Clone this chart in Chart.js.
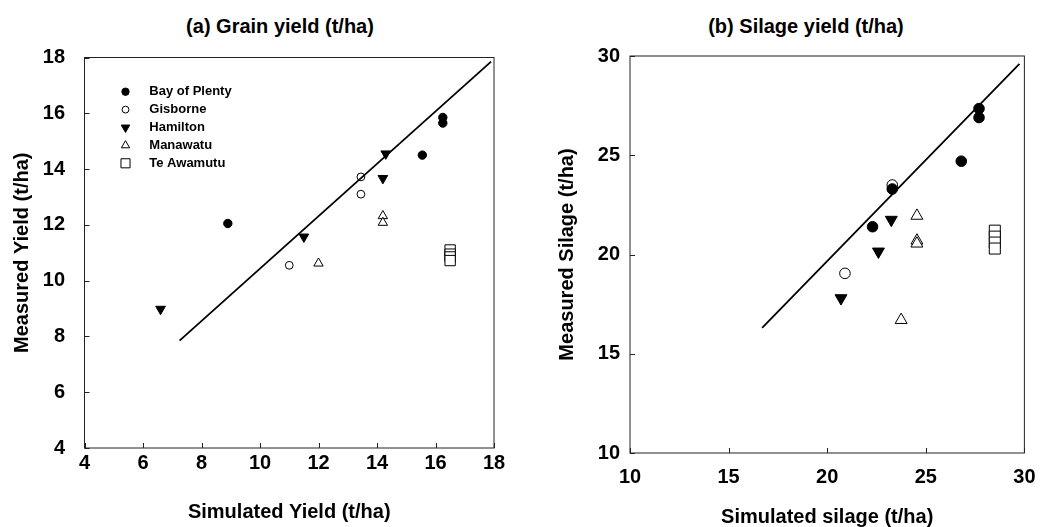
<!DOCTYPE html>
<html>
<head>
<meta charset="utf-8">
<script src="https://cdn.jsdelivr.net/npm/chart.js@4.4.1/dist/chart.umd.min.js"></script>
<style>
  body { margin: 0; background: #fff; }
  #wrap { position: relative; width: 1050px; height: 527px; font-family: "Liberation Sans", Arial, sans-serif; }
  canvas { position: absolute; top: 0; }
  .ttl { position: absolute; top: 15px; width: 300px; text-align: center; font-weight: bold; font-size: 20px; line-height: 22px; color: #000; }
</style>
</head>
<body>
<div id="wrap">
  <div class="ttl" style="left:130px">(a) Grain yield (t/ha)</div>
  <div class="ttl" style="left:656px">(b) Silage yield (t/ha)</div>
  <canvas id="grain" width="525" height="527" style="left:0"></canvas>
  <canvas id="silage" width="525" height="527" style="left:525px"></canvas>
</div>
<script>
/* -------- Daten -------- */
const sites = ["Bay of Plenty", "Gisborne", "Hamilton", "Manawatu", "Te Awamutu"];

// (a) grain yield: simulated (x) vs measured (y)
const grainBopX = [8.9, 15.55, 16.25, 16.25];
const grainBopY = [12.05, 14.5, 15.85, 15.65];
const grainGisX = [11.0, 13.45, 13.45];
const grainGisY = [10.55, 13.72, 13.1];
const grainHamX = [6.6, 11.5, 14.2, 14.3];
const grainHamY = [8.98, 11.57, 13.67, 14.55];
const grainManX = [12.0, 14.2, 14.2];
const grainManY = [10.62, 12.32, 12.08];
const grainTeaX = [16.5, 16.5, 16.5, 16.5];
const grainTeaY = [11.1, 10.95, 10.85, 10.72];
const grainLineX = [7.25, 17.9];
const grainLineY = [7.85, 17.85];
const grainTicks = [4, 6, 8, 10, 12, 14, 16, 18];

// (b) silage yield
const silBopX = [22.3, 26.8, 27.7, 27.7, 23.3];
const silBopY = [21.4, 24.7, 27.35, 26.9, 23.3];
const silGisX = [20.9, 23.3];
const silGisY = [19.05, 23.5];
const silHamX = [20.7, 22.6, 23.25];
const silHamY = [17.8, 20.15, 21.75];
const silManX = [23.75, 24.55, 24.55, 24.55];
const silManY = [16.7, 21.95, 20.7, 20.55];
const silTeaX = [28.5, 28.5, 28.5, 28.5];
const silTeaY = [21.2, 20.9, 20.6, 20.3];
const silLineX = [16.7, 29.75];
const silLineY = [16.3, 29.6];
const silTicks = [10, 15, 20, 25, 30];

/* -------- Stil -------- */
const FONT = '"Liberation Sans", Arial, sans-serif';
const siteStyle = [
  { style: "circle", rot: 0, fill: "#000" },
  { style: "circle", rot: 0, fill: "#fff" },
  { style: "triangle", rot: 180, fill: "#000" },
  { style: "triangle", rot: 0, fill: "#fff" },
  { style: "rect", rot: 0, fill: "#fff" }
];
const grainRadius = [4.2, 3.9, 5.6, 5.4, 7.3];
const silRadius = [5.3, 5.3, 6.9, 6.9, 7.8];

const pts = (xs, ys) => xs.map((x, i) => ({ x, y: ys[i] }));

function siteDataset(i, xs, ys, radius) {
  const s = siteStyle[i];
  return {
    label: sites[i],
    inLegend: true,
    data: pts(xs, ys),
    showLine: false,
    pointStyle: s.style,
    pointRotation: s.rot,
    pointRadius: radius[i],
    pointHoverRadius: radius[i],
    backgroundColor: s.fill,
    borderColor: "#000",
    pointBorderWidth: 1
  };
}

function lineDataset(xs, ys) {
  return {
    label: "1:1",
    data: pts(xs, ys),
    showLine: true,
    pointRadius: 0,
    borderColor: "#000",
    borderWidth: 1.8
  };
}

/* -------- Rahmen + Ticks nach innen -------- */
const framePlugin = {
  id: "frame",
  beforeDatasetsDraw(chart) {
    const { ctx, chartArea: a, scales } = chart;
    ctx.save();
    ctx.strokeStyle = "#222";
    ctx.lineWidth = 1;
    ctx.strokeRect(a.left, a.top, a.right - a.left, a.bottom - a.top);
    ctx.beginPath();
    scales.x.ticks.forEach(t => {
      const px = Math.round(scales.x.getPixelForValue(t.value)) + 0.5;
      ctx.moveTo(px, a.bottom);
      ctx.lineTo(px, a.bottom - 5);
    });
    scales.y.ticks.forEach(t => {
      const py = Math.round(scales.y.getPixelForValue(t.value)) + 0.5;
      ctx.moveTo(a.left, py);
      ctx.lineTo(a.left + 5, py);
    });
    ctx.stroke();
    ctx.restore();
  }
};

/* -------- Legende im Plot -------- */
const innerLegend = {
  id: "innerLegend",
  afterDatasetsDraw(chart, args, opts) {
    if (!opts.show) return;
    const { ctx, chartArea: a } = chart;
    ctx.save();
    ctx.font = "bold 13px " + FONT;
    ctx.textBaseline = "middle";
    let y = a.top + opts.top;
    chart.data.datasets.forEach(ds => {
      if (!ds.inLegend) return;
      ctx.fillStyle = ds.backgroundColor;
      ctx.strokeStyle = "#000";
      ctx.lineWidth = 1;
      Chart.helpers.drawPoint(ctx, {
        pointStyle: ds.pointStyle,
        rotation: ds.pointRotation,
        radius: ds.pointRadius * 0.88,
        borderWidth: 1
      }, a.left + opts.left, y);
      ctx.fillStyle = "#000";
      ctx.fillText(ds.label, a.left + opts.textLeft, y);
      y += opts.rowGap;
    });
    ctx.restore();
  }
};

function axis(min, max, step, title, c) {
  return {
    type: "linear",
    min, max,
    afterFit: s => { if (c.width) s.width = c.width; if (c.height) s.height = c.height; },
    grid: { display: false, drawTicks: false },
    border: { display: false },
    ticks: {
      stepSize: step,
      autoSkip: false,
      maxRotation: 0,
      padding: c.tickPad,
      color: "#000",
      font: { family: FONT, size: 20, weight: "bold", lineHeight: 1 }
    },
    title: {
      display: true,
      text: title,
      color: "#000",
      padding: c.titlePad,
      font: { family: FONT, size: 20, weight: "bold", lineHeight: 1 }
    }
  };
}

function makeChart(id, datasets, cfg) {
  return new Chart(document.getElementById(id).getContext("2d"), {
    type: "scatter",
    data: { datasets },
    options: {
      responsive: false,
      animation: false,
      devicePixelRatio: 1,
      layout: { padding: cfg.padding },
      plugins: {
        legend: { display: false },
        tooltip: { enabled: false },
        innerLegend: cfg.legend
      },
      scales: { x: cfg.x, y: cfg.y }
    },
    plugins: [framePlugin, innerLegend]
  });
}

/* -------- (a) Grain -------- */
makeChart("grain", [
  lineDataset(grainLineX, grainLineY),
  siteDataset(0, grainBopX, grainBopY, grainRadius),
  siteDataset(1, grainGisX, grainGisY, grainRadius),
  siteDataset(2, grainHamX, grainHamY, grainRadius),
  siteDataset(3, grainManX, grainManY, grainRadius),
  siteDataset(4, grainTeaX, grainTeaY, grainRadius)
], {
  padding: { top: 57.5, right: 31, bottom: 0, left: 0 },
  legend: { show: true, left: 41, textLeft: 64.8, top: 34.2, rowGap: 17.9 },
  x: axis(grainTicks[0], grainTicks[grainTicks.length - 1], 2, "Simulated Yield (t/ha)",
    { height: 79, tickPad: 5.5, titlePad: { top: 0, bottom: 4.5 } }),
  y: axis(grainTicks[0], grainTicks[grainTicks.length - 1], 2, "Measured Yield (t/ha)",
    { width: 84.5, tickPad: 19.5, titlePad: { top: 12.7, bottom: 0 } })
});

/* -------- (b) Silage -------- */
makeChart("silage", [
  lineDataset(silLineX, silLineY),
  siteDataset(0, silBopX, silBopY, silRadius),
  siteDataset(1, silGisX, silGisY, silRadius),
  siteDataset(2, silHamX, silHamY, silRadius),
  siteDataset(3, silManX, silManY, silRadius),
  siteDataset(4, silTeaX, silTeaY, silRadius)
], {
  padding: { top: 56, right: 13, bottom: 0, left: 0 },
  legend: { show: false },
  x: axis(silTicks[0], silTicks[silTicks.length - 1], 5, "Simulated silage (t/ha)",
    { height: 74, tickPad: 14.5, titlePad: { top: 0, bottom: 0 } }),
  y: axis(silTicks[0], silTicks[silTicks.length - 1], 5, "Measured Silage (t/ha)",
    { width: 105, tickPad: 10, titlePad: { top: 32, bottom: 0 } })
});
</script>
</body>
</html>
